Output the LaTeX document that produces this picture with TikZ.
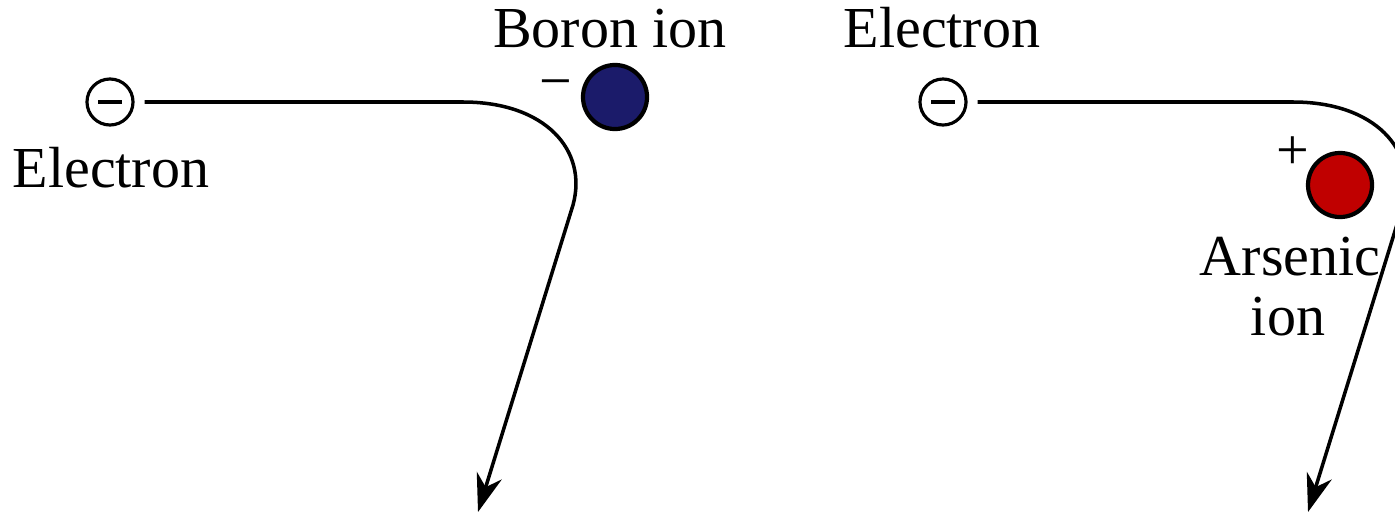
\documentclass[tikz,border=0pt]{standalone}
\usepackage{fontspec}
\setmainfont{Liberation Serif}
\newfontfamily\labelfont{Liberation Serif}
\usetikzlibrary{arrows.meta}
\definecolor{BoronBlue}{RGB}{27, 27, 106}
\definecolor{ArsenicRed}{RGB}{192, 0, 0}

\begin{document}
\begin{tikzpicture}[
    x=0.01cm, y=-0.01cm,
    every node/.style={font=\labelfont\fontsize{16.5}{20}\selectfont, inner sep=0pt},
    electron/.style={circle, draw, line width=0.9pt, minimum size=0.46cm,
                     path picture={\draw[line width=0.9pt]
                       (path picture bounding box.center) +(-12,0) -- +(12,0);}},
    ion/.style={circle, draw=black, line width=1.2pt, minimum size=0.64cm},
    track/.style={line width=1pt, shorten <=0.1cm,
                  -{Stealth[length=0.38cm, width=0.26cm, inset=0.12cm]}}
]
\useasboundingbox (0,0) rectangle (1395,518);
\clip (0,0) rectangle (1395,518);
% left: electron passing the boron ion
\node[electron] (e1) at (110,102) {};
\node[anchor=base] (e1lab) at (111,187) {Electron};
\node[ion, fill=BoronBlue] (boron) at (615,97) {};
\node[anchor=base] (boronlab) at (610,47) {Boron ion};
\node (bsign) at (556,90) {−};
\coordinate (b1) at (463,102);
\coordinate (k1) at (573,205);
\coordinate (t1) at (478,512);
\draw[track] (e1.east) -- (b1) .. controls (545,102) and (588,150) .. (k1) -- (t1);
% right: electron passing the arsenic ion
\node[electron] (e2) at (943,102) {};
\node[anchor=base] (e2lab) at (942,47) {Electron};
\node[ion, fill=ArsenicRed] (arsenic) at (1340,185) {};
\node[anchor=base] (arslab1) at (1290,275) {Arsenic};
\node[anchor=base] (arslab2) at (1288,335) {ion};
\node (asign) at (1293,153) {+};
\coordinate (b2) at (1293,102);
\coordinate (k2) at (1403,205);
\coordinate (t2) at (1308,512);
\draw[track] (e2.east) -- (b2) .. controls (1375,102) and (1418,150) .. (k2) -- (t2);
\end{tikzpicture}
\end{document}
